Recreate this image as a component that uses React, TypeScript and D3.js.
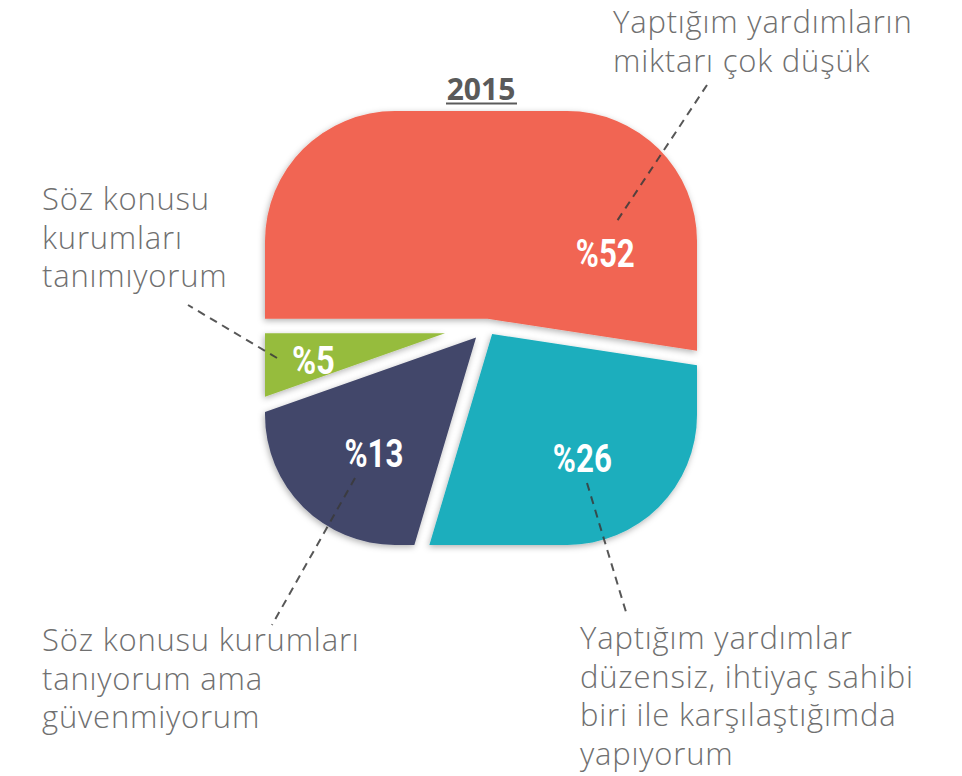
import React from "react";
import * as d3 from "d3";

// ---- data ----
const categories = [
  "Yaptığım yardımların miktarı çok düşük",
  "Yaptığım yardımlar düzensiz, ihtiyaç sahibi biri ile karşılaştığımda yapıyorum",
  "Söz konusu kurumları tanıyorum ama güvenmiyorum",
  "Söz konusu kurumları tanımıyorum",
];
const percentLabels = [52, 26, 13, 5];
// slice sizes as drawn in the picture (angular share, %)
const sliceShares = [52.4, 27.2, 15.0, 5.4];
const calloutLines = [
  ["Yaptığım yardımların", "miktarı çok düşük"],
  ["Yaptığım yardımlar", "düzensiz, ihtiyaç sahibi", "biri ile karşılaştığımda", "yapıyorum"],
  ["Söz konusu kurumları", "tanıyorum ama", "güvenmiyorum"],
  ["Söz konusu", "kurumları", "tanımıyorum"],
];
const chartTitle = "2015";

// ---- styles / layout ----
const colors = ["#F16552", "#1BAEBD", "#42476A", "#96BC3C"];
const W = 962;
const H = 776;
const box = { x0: 265, y0: 111, x1: 697, y1: 545, r: 130 };
const center: [number, number] = [487, 326];
const gapHalf = 7.2;
const labelPlacement = [
  { da: 54, r: 139 },
  { da: -3.4, r: 163 },
  { da: -1.9, r: 170 },
  { da: -1.5, r: 177 },
];
const calloutLayout = [
  { x: 613, y: 33, leader: [707, 85, 617, 221] },
  { x: 580, y: 649, leader: [587, 483, 626, 612] },
  { x: 42, y: 651, leader: [355, 478, 272, 625] },
  { x: 42, y: 210, leader: [277, 358, 188, 305] },
];
const lineHeight = 38.5;
const textColor = "#707070";

function unit(a: number): [number, number] {
  return [Math.sin(a), -Math.cos(a)];
}

function slicePath(a0: number, a1: number): string {
  const [cx, cy] = center;
  const theta = a1 - a0;
  const mid = (a0 + a1) / 2;
  const vd = gapHalf / Math.sin(theta / 2);
  const um = unit(mid);
  const vertex: [number, number] = [cx + vd * um[0], cy + vd * um[1]];
  const R = 1500;
  const u0 = unit(a0);
  const n0: [number, number] = [Math.cos(a0), Math.sin(a0)];
  const u1 = unit(a1);
  const n1: [number, number] = [-Math.cos(a1), -Math.sin(a1)];
  const pts: [number, number][] = [vertex];
  pts.push([cx + gapHalf * n0[0] + R * u0[0], cy + gapHalf * n0[1] + R * u0[1]]);
  const steps = Math.max(2, Math.ceil((theta * 180) / Math.PI / 5));
  for (let i = 0; i <= steps; i++) {
    const a = a0 + (theta * i) / steps;
    const u = unit(a);
    pts.push([cx + R * 1.2 * u[0], cy + R * 1.2 * u[1]]);
  }
  pts.push([cx + gapHalf * n1[0] + R * u1[0], cy + gapHalf * n1[1] + R * u1[1]]);
  return d3.line()(pts) + "Z";
}

export default function App() {
  const pie = d3
    .pie<number>()
    .sort(null)
    .value((d) => d)
    .startAngle(-Math.PI / 2)
    .endAngle((3 * Math.PI) / 2);
  const arcs = pie(sliceShares);
  const toRad = Math.PI / 180;

  return (
    <svg
      width={W}
      height={H}
      style={{ position: "absolute", left: 0, top: 0, background: "#fff" }}
      fontFamily="'Open Sans', sans-serif"
    >
      <defs>
        <clipPath id="squircle">
          <rect
            x={box.x0}
            y={box.y0}
            width={box.x1 - box.x0}
            height={box.y1 - box.y0}
            rx={box.r}
            ry={box.r}
          />
        </clipPath>
        <filter id="shadow" x="-20%" y="-20%" width="140%" height="140%">
          <feDropShadow dx={-1} dy={2} stdDeviation={3} floodColor="#000" floodOpacity={0.3} />
        </filter>
      </defs>

      {/* title */}
      <text x={481} y={100} textAnchor="middle" fontSize={30} fontWeight={700} fill="#5a5a5a">
        {chartTitle}
      </text>
      <line x1={446} x2={517} y1={103.5} y2={103.5} stroke="#5a5a5a" strokeWidth={2} />

      {/* slices */}
      {arcs.map((a, i) => (
        <g key={categories[i]} filter="url(#shadow)">
          <path d={slicePath(a.startAngle, a.endAngle)} fill={colors[i]} clipPath="url(#squircle)" />
        </g>
      ))}

      {/* leader lines */}
      {calloutLayout.map((c, i) => (
        <line
          key={"l" + i}
          x1={c.leader[0]}
          y1={c.leader[1]}
          x2={c.leader[2]}
          y2={c.leader[3]}
          stroke="#3a3a3a"
          strokeOpacity={0.85}
          strokeWidth={2}
          strokeDasharray="8 6"
        />
      ))}

      {/* percent labels */}
      {arcs.map((a, i) => {
        const mid = (a.startAngle + a.endAngle) / 2 + labelPlacement[i].da * toRad;
        const u = unit(mid);
        const x = center[0] + labelPlacement[i].r * u[0];
        const y = center[1] + labelPlacement[i].r * u[1];
        const txt = "%" + percentLabels[i];
        return (
          <text
            key={"p" + i}
            x={x}
            y={y + 13.5}
            textAnchor="middle"
            fontFamily="Roboto, sans-serif"
            fontWeight={700}
            fontSize={38}
            fill="#ffffff"
            textLength={txt.length === 2 ? 43 : 59}
            lengthAdjust="spacingAndGlyphs"
          >
            {txt}
          </text>
        );
      })}

      {/* callout texts */}
      {calloutLayout.map((c, i) => (
        <text
          key={"c" + i}
          x={c.x}
          y={c.y}
          fontSize={31}
          fill={textColor}
          fontWeight={300}
          letterSpacing={0.8}
        >
          {calloutLines[i].map((ln, j) => (
            <tspan key={j} x={c.x} y={c.y + j * lineHeight}>
              {ln}
            </tspan>
          ))}
        </text>
      ))}
    </svg>
  );
}
